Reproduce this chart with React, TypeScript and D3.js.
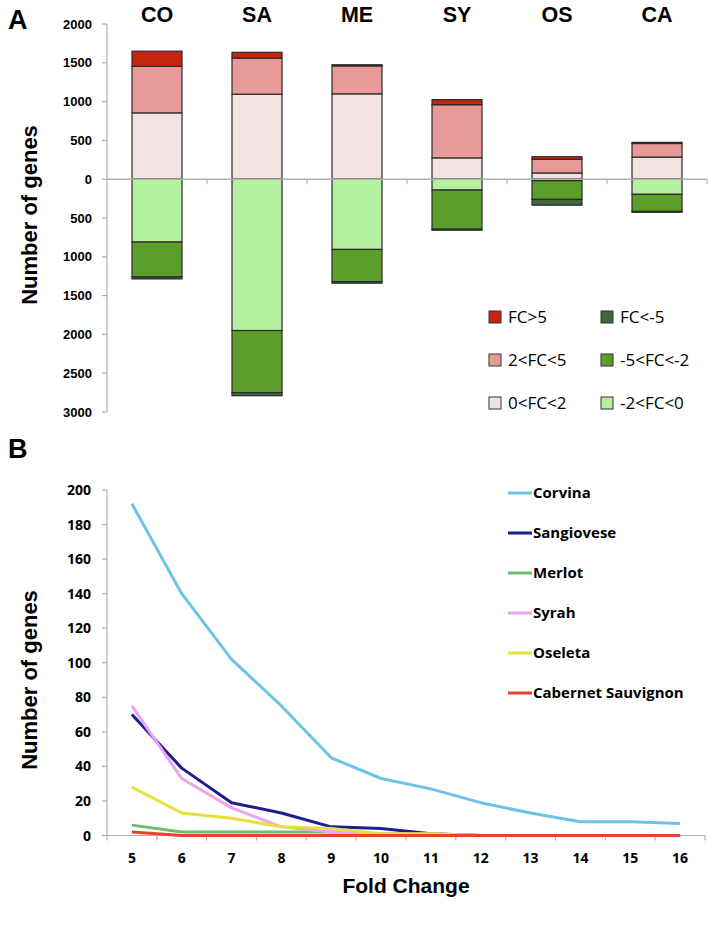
import React from "react";
import * as d3 from "d3";

// ---------- Panel A data ----------
const categoriesA = ["CO", "SA", "ME", "SY", "OS", "CA"];
const up0to2 = [855, 1095, 1100, 275, 80, 285];
const up2to5 = [600, 465, 360, 685, 175, 175];
const upGt5 = [195, 75, 15, 65, 35, 15];
const dn0to2 = [810, 1950, 905, 140, 20, 195];
const dn2to5 = [450, 800, 415, 505, 240, 220];
const dnGt5 = [25, 40, 20, 12, 75, 12];
const yTicksA = [2000, 1500, 1000, 500, 0, -500, -1000, -1500, -2000, -2500, -3000];

const legendA = [
  { label: "FC>5", color: "#c4250e" },
  { label: "FC<-5", color: "#3b6b3c" },
  { label: "2<FC<5", color: "#e89a99" },
  { label: "-5<FC<-2", color: "#5b9e2a" },
  { label: "0<FC<2", color: "#f3e2e2" },
  { label: "-2<FC<0", color: "#b3f1a0" },
];

// ---------- Panel B data ----------
const foldChanges = [5, 6, 7, 8, 9, 10, 11, 12, 13, 14, 15, 16];
const corvina = [192, 140, 102, 75, 45, 33, 27, 19, 13, 8, 8, 7];
const sangiovese = [70, 39, 19, 13, 5, 4, 1, 0, 0, 0, 0, 0];
const merlot = [6, 2, 2, 2, 2, 1, 1, 0, 0, 0, 0, 0];
const syrah = [75, 33, 16, 5, 2, 1, 0, 0, 0, 0, 0, 0];
const oseleta = [28, 13, 10, 5, 4, 1, 1, 0, 0, 0, 0, 0];
const cabernet = [2, 0, 0, 0, 0, 0, 0, 0, 0, 0, 0, 0];
const yTicksB = [0, 20, 40, 60, 80, 100, 120, 140, 160, 180, 200];

const seriesB = [
  { name: "Corvina", values: corvina, color: "#6cc3e6" },
  { name: "Sangiovese", values: sangiovese, color: "#1b1f8f" },
  { name: "Merlot", values: merlot, color: "#6cbd6e" },
  { name: "Syrah", values: syrah, color: "#eaa4f0" },
  { name: "Oseleta", values: oseleta, color: "#e6e03c" },
  { name: "Cabernet Sauvignon", values: cabernet, color: "#e8432a" },
];

const FONT = "'Liberation Sans', Arial, sans-serif";
const FONT2 = "'Open Sans', 'Noto Sans', sans-serif";

export default function App() {
  const W = 709;
  const H = 925;

  // Panel A scales
  const xA = d3.scaleBand<string>().domain(categoriesA).range([107, 707]).paddingInner(0.5).paddingOuter(0.25);
  const yA = d3.scaleLinear().domain([-3000, 2000]).range([412, 24]);
  const axisGray = "#b0b0b0";

  const bars: React.ReactNode[] = [];
  categoriesA.forEach((c, i) => {
    const x = xA(c)!;
    const w = xA.bandwidth();
    const posSeg = [
      { v: up0to2[i], color: "#f3e2e2" },
      { v: up2to5[i], color: "#e89a99" },
      { v: upGt5[i], color: "#c4250e" },
    ];
    let acc = 0;
    posSeg.forEach((s, j) => {
      const y0 = yA(acc);
      const y1 = yA(acc + s.v);
      bars.push(
        <rect key={`p${i}-${j}`} x={x} y={y1} width={w} height={y0 - y1} fill={s.color} stroke="#2a2a2a" strokeWidth={1.2} />
      );
      acc += s.v;
    });
    const negSeg = [
      { v: dn0to2[i], color: "#b3f1a0" },
      { v: dn2to5[i], color: "#5b9e2a" },
      { v: dnGt5[i], color: "#3b6b3c" },
    ];
    acc = 0;
    negSeg.forEach((s, j) => {
      const y0 = yA(-acc);
      const y1 = yA(-(acc + s.v));
      bars.push(
        <rect key={`n${i}-${j}`} x={x} y={y0} width={w} height={y1 - y0} fill={s.color} stroke="#2a2a2a" strokeWidth={1.2} />
      );
      acc += s.v;
    });
  });

  // Panel B scales
  const xB = d3.scaleBand<number>().domain(foldChanges).range([107, 705]);
  const yB = d3.scaleLinear().domain([0, 200]).range([835.5, 490]);
  const line = d3
    .line<number>()
    .x((_, i) => xB(foldChanges[i])! + xB.bandwidth() / 2)
    .y((d) => yB(d));

  const bandEdgesA = d3.range(categoriesA.length + 1).map((k) => 107 + k * xA.step());
  const bandEdgesB = d3.range(foldChanges.length + 1).map((k) => 107 + k * xB.step());

  return (
    <svg width={W} height={H} style={{ position: "absolute", left: 0, top: 0, background: "#fff" }}>
      <rect x={0} y={0} width={W} height={H} fill="#fff" />
      {/* Panel A */}
      <text x={8} y={29} fontFamily={FONT} fontWeight="bold" fontSize={27}>A</text>
      {categoriesA.map((c) => (
        <text key={c} x={xA(c)! + xA.bandwidth() / 2} y={22} textAnchor="middle" fontFamily={FONT} fontWeight="bold" fontSize={21.5}>
          {c}
        </text>
      ))}
      <line x1={107} x2={107} y1={yA(2000)} y2={yA(-3000)} stroke={axisGray} strokeWidth={1.2} />
      {yTicksA.map((t) => (
        <g key={t}>
          <line x1={102} x2={107} y1={yA(t)} y2={yA(t)} stroke={axisGray} strokeWidth={1.2} />
          <text x={92} y={yA(t) + 4.5} textAnchor="end" fontFamily={FONT} fontWeight="bold" fontSize={13}>
            {Math.abs(t)}
          </text>
        </g>
      ))}
      <text transform={`translate(37,215) rotate(-90)`} textAnchor="middle" fontFamily={FONT} fontWeight="bold" fontSize={22}>
        Number of genes
      </text>
      {bars}
      <line x1={107} x2={707} y1={yA(0)} y2={yA(0)} stroke={axisGray} strokeWidth={1.4} />
      {bandEdgesA.slice(1).map((x) => (
        <line key={x} x1={x} x2={x} y1={yA(0)} y2={yA(0) + 5} stroke={axisGray} strokeWidth={1.2} />
      ))}
      {legendA.map((l, k) => {
        const col = k % 2;
        const row = Math.floor(k / 2);
        const lx = col === 0 ? 489 : 601;
        const ly = 317 + row * 43;
        return (
          <g key={l.label}>
            <rect x={lx} y={ly - 6} width={12} height={12} fill={l.color} stroke="#333" strokeWidth={1} />
            <text x={lx + 19} y={ly + 6} fontFamily={FONT2} fontSize={17}>{l.label}</text>
          </g>
        );
      })}

      {/* Panel B */}
      <text x={8} y={458} fontFamily={FONT} fontWeight="bold" fontSize={27}>B</text>
      <line x1={107} x2={107} y1={yB(200)} y2={yB(0)} stroke={axisGray} strokeWidth={1.2} />
      {yTicksB.map((t) => (
        <g key={t}>
          <line x1={102} x2={107} y1={yB(t)} y2={yB(t)} stroke={axisGray} strokeWidth={1.2} />
          <text x={91} y={yB(t) + 5} textAnchor="end" fontFamily={FONT2} fontWeight="bold" fontSize={14}>
            {t}
          </text>
        </g>
      ))}
      <line x1={107} x2={705} y1={yB(0)} y2={yB(0)} stroke={axisGray} strokeWidth={1.2} />
      {bandEdgesB.map((x) => (
        <line key={x} x1={x} x2={x} y1={yB(0)} y2={yB(0) + 5} stroke={axisGray} strokeWidth={1.2} />
      ))}
      {foldChanges.map((f) => (
        <text key={f} x={xB(f)! + xB.bandwidth() / 2} y={863} textAnchor="middle" fontFamily={FONT2} fontWeight="bold" fontSize={14}>
          {f}
        </text>
      ))}
      <text x={406} y={893} textAnchor="middle" fontFamily={FONT} fontWeight="bold" fontSize={21}>Fold Change</text>
      <text transform={`translate(37,680) rotate(-90)`} textAnchor="middle" fontFamily={FONT} fontWeight="bold" fontSize={22}>
        Number of genes
      </text>
      {seriesB.map((s) => (
        <path key={s.name} d={line(s.values)!} fill="none" stroke={s.color} strokeWidth={3} strokeLinejoin="round" />
      ))}
      {seriesB.map((s, k) => {
        const ly = 493 + k * 40;
        return (
          <g key={s.name}>
            <line x1={508} x2={532} y1={ly} y2={ly} stroke={s.color} strokeWidth={3} />
            <text x={533} y={ly + 5} fontFamily={FONT2} fontWeight="bold" fontSize={15}>{s.name}</text>
          </g>
        );
      })}
    </svg>
  );
}
